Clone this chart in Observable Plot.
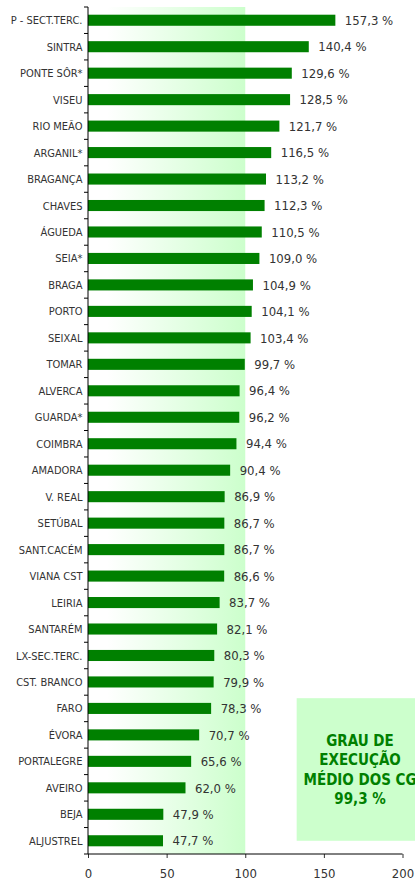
<!DOCTYPE html>
<html>
<head>
<meta charset="utf-8">
<script src="https://cdn.jsdelivr.net/npm/d3@7"></script>
<script src="https://cdn.jsdelivr.net/npm/@observablehq/plot@0.6"></script>
<style>
  html, body { margin: 0; padding: 0; background: #fff; }
  #chart svg { display: block; }
</style>
</head>
<body>
<div id="chart"></div>
<script>
const categories = [
  "P - SECT.TERC.", "SINTRA", "PONTE SÔR*", "VISEU", "RIO MEÃO", "ARGANIL*",
  "BRAGANÇA", "CHAVES", "ÁGUEDA", "SEIA*", "BRAGA", "PORTO", "SEIXAL", "TOMAR",
  "ALVERCA", "GUARDA*", "COIMBRA", "AMADORA", "V. REAL", "SETÚBAL", "SANT.CACÉM",
  "VIANA CST", "LEIRIA", "SANTARÉM", "LX-SEC.TERC.", "CST. BRANCO", "FARO",
  "ÉVORA", "PORTALEGRE", "AVEIRO", "BEJA", "ALJUSTREL"
];
const values = [
  157.3, 140.4, 129.6, 128.5, 121.7, 116.5,
  113.2, 112.3, 110.5, 109.0, 104.9, 104.1, 103.4, 99.7,
  96.4, 96.2, 94.4, 90.4, 86.9, 86.7, 86.7,
  86.6, 83.7, 82.1, 80.3, 79.9, 78.3,
  70.7, 65.6, 62.0, 47.9, 47.7
];
const xTicks = [0, 50, 100, 150, 200];
const targetValue = 100;
const avgTitleLines = ["GRAU DE", "EXECUÇÃO", "MÉDIO DOS CG"];
const avgValue = 99.3;

const data = categories.map((c, i) => ({name: c, value: values[i]}));
const fmt = v => v.toFixed(1).replace(".", ",") + " %";
const FONT = "'DejaVu Sans Condensed', 'Liberation Sans Narrow', 'Arial Narrow', sans-serif";

function backgroundMark(index, scales, values, dims) {
  const g = d3.create("svg:g");
  const defs = g.append("defs");
  const grad = defs.append("linearGradient").attr("id", "bgGrad")
    .attr("x1", "0%").attr("x2", "100%").attr("y1", "0%").attr("y2", "0%");
  grad.append("stop").attr("offset", "0%").attr("stop-color", "#ffffff");
  grad.append("stop").attr("offset", "12%").attr("stop-color", "#ffffff");
  grad.append("stop").attr("offset", "100%").attr("stop-color", "#ccffcc");
  const x0 = scales.x(0), x1 = scales.x(targetValue);
  g.append("rect")
    .attr("x", x0).attr("width", x1 - x0)
    .attr("y", dims.marginTop).attr("height", dims.height - dims.marginTop - dims.marginBottom)
    .attr("fill", "url(#bgGrad)");
  return g.node();
}

function axesMark(index, scales, values, dims) {
  const g = d3.create("svg:g").attr("stroke", "#000").attr("stroke-width", 1).attr("fill", "none");
  const left = dims.marginLeft, right = dims.width - dims.marginRight;
  const top = dims.marginTop, bottom = dims.height - dims.marginBottom;
  g.append("line").attr("x1", left).attr("x2", left).attr("y1", top).attr("y2", bottom);
  g.append("line").attr("x1", left).attr("x2", right).attr("y1", bottom).attr("y2", bottom);
  const bw = scales.y.bandwidth();
  const ys = categories.map(c => scales.y(c));
  ys.push(ys[ys.length - 1] + bw);
  for (const y of ys) {
    g.append("line").attr("x1", left - 4).attr("x2", left).attr("y1", y).attr("y2", y);
  }
  return g.node();
}

function avgBoxMark(index, scales, values, dims) {
  const g = d3.create("svg:g");
  const bw = scales.y.bandwidth();
  const x1 = scales.x(132.7);
  const xc = scales.x(173);
  const y1 = scales.y("FARO") + 3;
  const y2 = scales.y("ALJUSTREL") + bw / 2;
  g.append("rect").attr("x", x1).attr("y", y1)
    .attr("width", 2 * (xc - x1)).attr("height", y2 - y1)
    .attr("fill", "#ccffcc");
  const lines = [...avgTitleLines, fmt(avgValue)];
  const lh = 19.3;
  const yc = (y1 + y2) / 2;
  lines.forEach((t, i) => {
    g.append("text")
      .attr("x", xc)
      .attr("y", yc + (i - (lines.length - 1) / 2) * lh)
      .attr("dy", "0.36em")
      .attr("text-anchor", "middle")
      .attr("font-family", FONT)
      .attr("font-weight", "bold")
      .attr("font-size", 15)
      .attr("fill", "#008000")
      .text(t);
  });
  return g.node();
}

const chart = Plot.plot({
  width: 415,
  height: 882,
  marginLeft: 88,
  marginRight: 12.5,
  marginTop: 7,
  marginBottom: 28,
  style: {fontFamily: FONT, background: "#fff", color: "#333", overflow: "hidden"},
  x: {domain: [0, 200], ticks: xTicks, label: null},
  y: {domain: categories, padding: 0, round: false, label: null},
  marks: [
    backgroundMark,
    Plot.barX(data, {x: "value", y: "name", fill: "#008000", insetTop: 7.7, insetBottom: 7.7}),
    Plot.text(data, {x: "value", y: "name", text: d => fmt(d.value), textAnchor: "start", dx: 9, fontSize: 13, fill: "#333"}),
    Plot.axisY({tickSize: 0, tickPadding: 6, fontSize: 11, fill: "#333", label: null}),
    Plot.axisX({tickSize: 4, tickPadding: 10, fontSize: 13, fill: "#333", label: null, ticks: xTicks, tickFormat: d => String(d)}),
    axesMark,
    avgBoxMark
  ]
});
document.getElementById("chart").appendChild(chart);
</script>
</body>
</html>
